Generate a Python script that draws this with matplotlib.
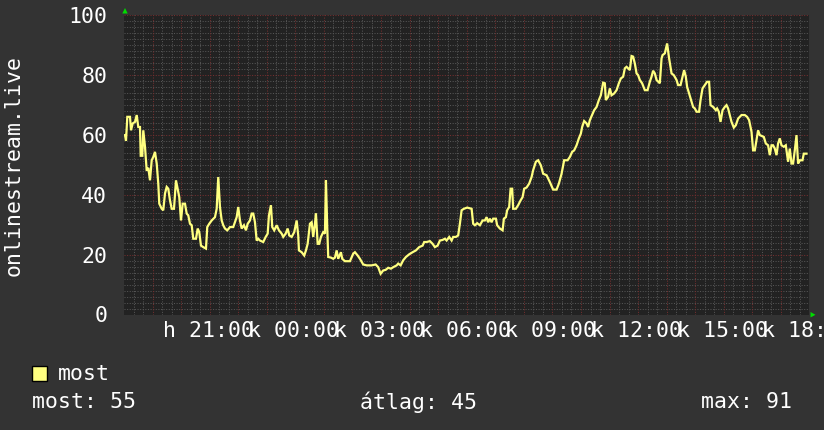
import matplotlib
matplotlib.use("Agg")
import matplotlib.pyplot as plt
import matplotlib.transforms as mtransforms
from matplotlib.patches import Rectangle, Polygon
import numpy as np

# ---------------- data (hours since 18:00 of the first day) ----------------
hours_evening = [
    0.035, 0.07, 0.116, 0.21, 0.245, 0.305, 0.385, 0.445, 0.50, 0.56,
    0.585, 0.64, 0.675, 0.735, 0.795, 0.85, 0.91, 0.97, 1.025, 1.085,
    1.145, 1.20, 1.235, 1.32, 1.375, 1.435, 1.495, 1.55, 1.61, 1.67,
    1.75, 1.82, 1.865, 1.935, 1.995, 2.055, 2.135, 2.195, 2.25, 2.31,
    2.37, 2.425, 2.52, 2.58, 2.635, 2.695, 2.775, 2.87, 2.915, 2.985,
    3.07, 3.185, 3.245, 3.30, 3.36, 3.42, 3.475, 3.535, 3.615, 3.71,
    3.825, 3.945, 4.00, 4.06, 4.12, 4.20, 4.27, 4.33, 4.41, 4.47,
    4.525, 4.585]
values_evening = [
    59.9, 58, 66, 66, 61.5, 63.8, 64.3, 66.6, 62.6, 62.6,
    53, 53, 61.5, 56, 48, 49, 44.8, 51.5, 52.6, 54.3,
    50.4, 43.7, 37, 35.3, 34.8, 40.4, 42.6, 42, 38.1, 35.3,
    35.3, 44.8, 42.6, 39.2, 31.4, 37, 37, 33.7, 33.1, 30.3,
    29.8, 25.3, 25.3, 28.7, 27.5, 23, 22.5, 22, 29.2, 30.3,
    31.4, 32.5, 35.3, 45.9, 35.9, 31.4, 29.8, 28.7, 28.1, 29.2,
    29.2, 32.5, 35.9, 31.4, 28.7, 29.8, 28.1, 30.3, 31.4, 33.7,
    33.7, 30.8]

hours_night = [
    4.645, 4.70, 4.76, 4.875, 4.96, 5.03, 5.075, 5.145, 5.19, 5.26,
    5.345, 5.425, 5.52, 5.575, 5.66, 5.73, 5.785, 5.87, 5.96, 6.045,
    6.10, 6.125, 6.22, 6.31, 6.37, 6.43, 6.51, 6.57, 6.625, 6.685,
    6.72, 6.78, 6.835, 6.895, 6.975, 7.035, 7.07, 7.115, 7.15, 7.245,
    7.325, 7.385, 7.445, 7.50, 7.595, 7.64, 7.735, 7.91, 8.025, 8.085,
    8.18, 8.26, 8.375, 8.495, 8.67, 8.81, 8.90, 8.985, 9.075, 9.16,
    9.25, 9.345, 9.425]
values_night = [
    24.7, 25.3, 24.7, 24.2, 25.9, 27, 33.1, 36.5, 29.2, 28.1,
    29.8, 28.1, 27, 25.9, 27, 28.7, 26.4, 25.9, 27.5, 31.4,
    26.4, 21.4, 20.8, 19.7, 21.4, 23.6, 30.3, 30.8, 25.9, 30.3,
    33.7, 23.6, 23.6, 25.9, 27.5, 27, 44.8, 29.2, 19.2, 19,
    18.6, 19, 21.4, 18.6, 20.8, 18.6, 17.8, 17.8, 20.3, 20.8,
    19.7, 18.6, 16.7, 16.4, 16.4, 16.7, 15.8, 13.6, 14.7, 14.9,
    15.6, 15.3, 15.8]

hours_morning = [
    9.545, 9.60, 9.685, 9.775, 9.87, 9.985, 10.105, 10.22, 10.335, 10.455,
    10.51, 10.595, 10.71, 10.805, 10.885, 10.98, 11.06, 11.155, 11.235, 11.295,
    11.385, 11.47, 11.525, 11.62, 11.70, 11.76, 11.82, 11.90, 12.015, 12.17,
    12.225, 12.285, 12.365, 12.46, 12.555, 12.635, 12.695, 12.75, 12.81, 12.87,
    12.925, 13.02, 13.065, 13.16, 13.255, 13.30, 13.37, 13.415, 13.485, 13.535,
    13.59, 13.625, 13.72, 13.80, 13.885, 13.955, 14.01, 14.095, 14.185]
values_morning = [
    16.4, 17, 16.4, 18.1, 19.2, 20.1, 20.8, 21.4, 22.5, 23,
    24.2, 24.2, 24.5, 23.6, 22.5, 23, 24.7, 24.9, 25.3, 24.7,
    25.9, 24.7, 25.9, 25.9, 26.4, 30.3, 34.8, 35.3, 35.7, 35.3,
    30.3, 29.8, 30.5, 29.8, 31.4, 31.4, 32.5, 30.8, 32, 30.8,
    32, 32, 29.8, 28.7, 28.1, 32, 32.5, 34.8, 35.9, 42,
    42, 35.3, 35.3, 36.5, 38.1, 39.2, 42, 42.4, 43.7]

hours_midday = [
    14.27, 14.325, 14.42, 14.50, 14.595, 14.675, 14.795, 14.91, 15.025, 15.145,
    15.225, 15.32, 15.41, 15.53, 15.61, 15.69, 15.76, 15.845, 15.925, 15.995,
    16.04, 16.11, 16.195, 16.25, 16.31, 16.37, 16.46, 16.545, 16.625, 16.695,
    16.775, 16.835, 16.87, 16.95, 17.01, 17.07, 17.16, 17.245, 17.325, 17.395,
    17.475, 17.535, 17.595, 17.65, 17.71, 17.77, 17.825, 17.885, 17.945, 18.00,
    18.06, 18.14, 18.235, 18.33, 18.41, 18.47, 18.525, 18.585, 18.645, 18.76]
values_midday = [
    45.9, 48.2, 51, 51.5, 49.8, 47, 46.5, 44.2, 41.7, 41.7,
    43.7, 47, 51.5, 51.5, 52.6, 54.3, 54.8, 56.5, 58.8, 60.4,
    62.6, 64.6, 63.8, 62.6, 64.9, 66.2, 68.2, 69.3, 71.6, 73.2,
    77.4, 77.2, 71.6, 72.7, 75.5, 73.2, 73.8, 74.9, 77.2, 78.8,
    79.4, 82.2, 82.7, 82.2, 81.6, 86.3, 86.1, 83.8, 80.5, 79.9,
    78.3, 77.2, 74.9, 74.9, 77.7, 79.4, 81.4, 80.5, 78.3, 77.2]

hours_afternoon = [
    18.82, 18.855, 18.935, 19.015, 19.085, 19.17, 19.25, 19.345, 19.40, 19.485,
    19.555, 19.61, 19.67, 19.715, 19.785, 19.87, 19.925, 19.985, 20.045, 20.135,
    20.185, 20.255, 20.335, 20.415, 20.485, 20.535, 20.625, 20.72, 20.765, 20.825,
    20.885, 20.955, 21.035, 21.095, 21.15, 21.21, 21.27, 21.35, 21.42, 21.50,
    21.62, 21.735, 21.815, 21.885, 21.97, 22.025, 22.085, 22.145, 22.20, 22.26,
    22.355, 22.40, 22.47, 22.55, 22.61, 22.67, 22.725, 22.785, 22.845, 22.90,
    22.96, 23.02, 23.10, 23.17, 23.25, 23.31, 23.37, 23.425, 23.485, 23.545,
    23.60, 23.66, 23.755, 23.80, 23.895]
values_afternoon = [
    85.5, 86.6, 87.2, 90.5, 85.5, 80.5, 79.9, 78.3, 76.6, 76.6,
    79.4, 81.6, 79.4, 76, 73.8, 71, 69.3, 68.8, 67.7, 67.7,
    71.6, 75.5, 76.6, 77.7, 77.7, 69.9, 69.3, 68.2, 68.8, 67.7,
    64.3, 68.2, 69.3, 69.9, 68.8, 66.6, 64.3, 62.4, 63.2, 65.4,
    66.6, 66.6, 66, 64.9, 61, 54.8, 54.8, 58.2, 61.5, 59.9,
    59.5, 59.3, 57.1, 56.5, 53.2, 56.5, 56.5, 55.4, 53.2, 57.1,
    58.8, 56.5, 56, 56.5, 51, 55.4, 50.4, 50.4, 54.8, 59.9,
    50.4, 51.5, 51.5, 53.7, 53.7]

x_tick_hours = [3, 6, 9, 12, 15, 18, 21, 24]
x_tick_labels = ["h 21:00", "k 00:00", "k 03:00", "k 06:00",
                 "k 09:00", "k 12:00", "k 15:00", "k 18:00"]
y_ticks = [0, 20, 40, 60, 80, 100]
y_label = "onlinestream.live"
series_name = "most"
stat_labels = ["most", "átlag", "max"]
stat_values = [55, 45, 91]

# ---------------- style ----------------
W, H, DPI = 824, 430, 100
BG = "#333333"
CANVAS = "#222222"
MINOR = "#555555"
MAJOR = "#742f2f"
LINE = "#ffff80"
TXT = "#ffffff"
ARROW = "#00dd00"
FONT = "DejaVu Sans Mono"
FS = 15.5

plt.rcParams["font.family"] = [FONT]

hours = np.array(hours_evening + hours_night + hours_morning + hours_midday + hours_afternoon)
values = np.array(values_evening + values_night + values_morning + values_midday + values_afternoon)

fig = plt.figure(figsize=(W / DPI, H / DPI), dpi=DPI, facecolor=BG)
L, R, T, B = 124, 809.5, 15, 314.5
ax = fig.add_axes([L / W, (H - B) / H, (R - L) / W, (B - T) / H])
ax.set_facecolor(CANVAS)
ax.set_xlim(0, 24)
ax.set_ylim(0, 100)
for s in ax.spines.values():
    s.set_visible(False)

dots = (0, (1, 1.5))
# minor grid
for yv in np.arange(2, 100, 2):
    if yv % 20:
        ax.axhline(yv, color=MINOR, lw=0.75, ls=dots, zorder=1)
for xv in np.arange(1 / 3, 24, 1 / 3):
    if abs(xv - round(xv)) > 1e-6:
        ax.axvline(xv, color=MINOR, lw=0.75, ls=dots, zorder=1)
# major grid
for yv in y_ticks[1:]:
    ax.axhline(yv, color=MAJOR, lw=0.75, ls=dots, zorder=1.5)
for xv in range(1, 25):
    ax.axvline(xv, color=MAJOR, lw=0.75, ls=dots, zorder=1.5)

ax.plot(hours, values, color=LINE, lw=1.6, zorder=3, solid_joinstyle="miter")

ax.set_yticks(y_ticks)
ax.set_yticklabels([str(v) for v in y_ticks])
ax.set_xticks(x_tick_hours)
ax.set_xticklabels(x_tick_labels)
ax.tick_params(axis="y", length=0, pad=12, labelsize=FS, labelcolor=TXT)
ax.tick_params(axis="x", length=0, pad=5, labelsize=FS, labelcolor=TXT)
offset = mtransforms.ScaledTranslation(-1.5 / DPI, 0, fig.dpi_scale_trans)
for lab in ax.get_xticklabels():
    lab.set_transform(lab.get_transform() + offset)

fig.text(14 / W, 1 - 165 / H, y_label, rotation=90, ha="center", va="center",
         color=TXT, fontsize=FS)

# axis arrows
fig.add_artist(Polygon([[122.3 / W, 1 - 13.5 / H], [127.7 / W, 1 - 13.5 / H], [125 / W, 1 - 8 / H]],
                       closed=True, transform=fig.transFigure, facecolor=ARROW, edgecolor="none"))
fig.add_artist(Polygon([[810.5 / W, 1 - 312 / H], [810.5 / W, 1 - 317.5 / H], [815.5 / W, 1 - 314.8 / H]],
                       closed=True, transform=fig.transFigure, facecolor=ARROW, edgecolor="none"))

# legend
fig.add_artist(Rectangle((32 / W, 1 - 381 / H), 15 / W, 15 / H, transform=fig.transFigure,
                         facecolor=LINE, edgecolor="black", lw=1))
fig.text(58 / W, 1 - 374 / H, series_name, ha="left", va="center", color=TXT, fontsize=FS)
stat_x = [32, 360, 701]
for sx, lab, val in zip(stat_x, stat_labels, stat_values):
    fig.text(sx / W, 1 - 402 / H, f"{lab}: {val}", ha="left", va="center", color=TXT, fontsize=FS)

fig.savefig("out.png", dpi=DPI, facecolor=BG)
